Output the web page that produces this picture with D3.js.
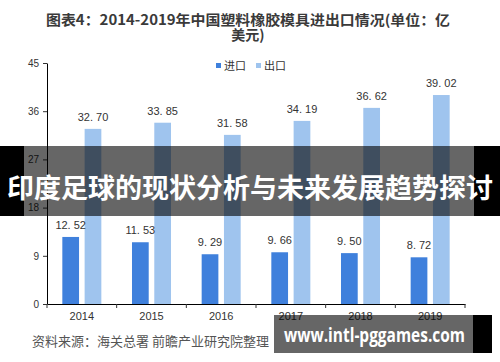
<!DOCTYPE html>
<html>
<head>
<meta charset="utf-8">
<script src="https://cdn.jsdelivr.net/npm/d3@7"></script>
<style>
  body { margin: 0; background: #fff; }
  svg { display: block; font-family: "Noto Sans CJK SC", "Noto Sans", sans-serif; }
</style>
</head>
<body>
<div id="chart"></div>
<script>
// data
var years = ["2014", "2015", "2016", "2017", "2018", "2019"];
var imports = [12.52, 11.53, 9.29, 9.66, 9.50, 8.72];
var exports = [32.70, 33.85, 31.58, 34.19, 36.62, 39.02];
var seriesNames = ["进口", "出口"];
var yTicks = [0, 9, 18, 27, 36, 45];

var colors = { "进口": "#3f80dc", "出口": "#9fc4ee" };

var W = 500, H = 362;
var svg = d3.select("#chart").append("svg").attr("width", W).attr("height", H);

// title
var title = svg.append("g").attr("fill", "#3a3a3a").attr("font-weight", "bold").attr("font-size", 14);
title.append("text").attr("x", 248).attr("y", 25).attr("text-anchor", "middle")
  .attr("textLength", 404).attr("lengthAdjust", "spacingAndGlyphs")
  .text("图表4：2014-2019年中国塑料橡胶模具进出口情况(单位：亿");
title.append("text").attr("x", 248).attr("y", 40).attr("text-anchor", "middle").text("美元)");

// scales
var x = d3.scaleBand().domain(years).range([47, 465]);
var bw = x.bandwidth();
var x1 = d3.scaleBand().domain(seriesNames).range([bw * 0.22, bw * 0.78]).paddingInner(0.25);
var y = d3.scaleLinear().domain([0, 45]).range([304, 63]);

var rows = years.map(function(yr, i) {
  return { year: yr, vals: [{ k: "进口", v: imports[i] }, { k: "出口", v: exports[i] }] };
});

// y axis
var yAxis = svg.append("g").attr("transform", "translate(47,0)")
  .call(d3.axisLeft(y).tickValues(yTicks).tickSize(4).tickSizeOuter(0).tickPadding(4));
yAxis.select(".domain").attr("stroke", "#000");
yAxis.selectAll("text").attr("font-size", 10).attr("fill", "#333").attr("font-family", "Liberation Sans, Arial, sans-serif");
yAxis.selectAll(".tick line").attr("stroke", "#333");

// x axis
var xAxis = svg.append("g").attr("transform", "translate(0,304)")
  .call(d3.axisBottom(x).tickSize(0).tickSizeOuter(0).tickPadding(8));
xAxis.select(".domain").attr("stroke", "#000");
xAxis.selectAll("text").attr("font-size", 11).attr("fill", "#333").attr("font-family", "Liberation Sans, Arial, sans-serif");
// ticks between categories
var bounds = years.map(function(d) { return x(d); }).concat([x.range()[1]]);
svg.append("g").selectAll("line").data(bounds).enter().append("line")
  .attr("x1", function(d) { return d; }).attr("x2", function(d) { return d; })
  .attr("y1", 304).attr("y2", 308).attr("stroke", "#333");

// bars
var groups = svg.append("g").selectAll("g").data(rows).enter().append("g")
  .attr("transform", function(d) { return "translate(" + x(d.year) + ",0)"; });

groups.selectAll("rect").data(function(d) { return d.vals; }).enter().append("rect")
  .attr("x", function(d) { return x1(d.k); })
  .attr("width", x1.bandwidth())
  .attr("y", function(d) { return y(d.v); })
  .attr("height", function(d) { return y(0) - y(d.v); })
  .attr("fill", function(d) { return colors[d.k]; });

groups.selectAll("text").data(function(d) { return d.vals; }).enter().append("text")
  .attr("x", function(d) { return x1(d.k) + x1.bandwidth() / 2; })
  .attr("y", function(d) { return y(d.v) - 8; })
  .attr("text-anchor", "middle")
  .attr("font-size", 11)
  .attr("fill", "#333")
  .attr("font-family", "Liberation Sans, Arial, sans-serif")
  .text(function(d) { return d.v.toFixed(2).replace(".", ". "); });

// legend
var legend = svg.append("g").attr("font-size", 11).attr("fill", "#333");
var lx = [216, 256];
seriesNames.forEach(function(s, i) {
  legend.append("rect").attr("x", lx[i]).attr("y", 63).attr("width", 5).attr("height", 5).attr("fill", colors[s]);
  legend.append("text").attr("x", lx[i] + 8).attr("y", 70).text(s);
});

// source
svg.append("text").attr("x", 32).attr("y", 346).attr("font-size", 13).attr("fill", "#555")
  .text("资料来源：海关总署 前瞻产业研究院整理");

// banner overlay
svg.append("rect").attr("x", 0).attr("y", 146).attr("width", 24).attr("height", 70).attr("fill", "#000");
svg.append("rect").attr("x", 474).attr("y", 146).attr("width", 26).attr("height", 70).attr("fill", "#000");
svg.append("rect").attr("x", 24).attr("y", 146).attr("width", 450).attr("height", 70).attr("fill", "rgba(0,0,0,0.6)");
svg.append("text").attr("x", 250).attr("y", 198).attr("text-anchor", "middle")
  .attr("font-size", 27).attr("font-weight", "bold").attr("fill", "#fff")
  .text("印度足球的现状分析与未来发展趋势探讨");

// site label
svg.append("rect").attr("x", 473).attr("y", 315).attr("width", 19).attr("height", 38).attr("fill", "#000");
svg.append("rect").attr("x", 274).attr("y", 315).attr("width", 199).attr("height", 38).attr("fill", "rgba(0,0,0,0.6)");
svg.append("text").attr("x", 284).attr("y", 342)
  .attr("font-size", 20).attr("font-weight", "bold").attr("fill", "#fff")
  .attr("font-family", "Open Sans, DejaVu Sans, sans-serif")
  .attr("textLength", 181).attr("lengthAdjust", "spacingAndGlyphs")
  .text("www.intl-pggames.com");
</script>
</body>
</html>
